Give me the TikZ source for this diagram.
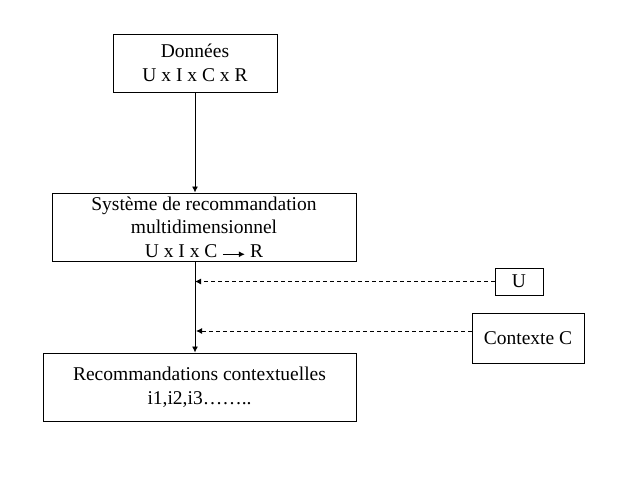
\documentclass[tikz,border=0pt]{standalone}
\usepackage{fontspec}
\setmainfont{Liberation Serif}
\usetikzlibrary{arrows.meta}
\newcommand{\inarrow}{\tikz[baseline=-0.15em]\draw[line width=0.9pt,-{Latex[length=6pt,width=6pt]}] (0,0) -- (22pt,0);}
\begin{document}
\begin{tikzpicture}[x=1pt,y=-1pt,
  box/.style={draw,line width=1pt,align=center,inner sep=0pt,font=\fontsize{19.5}{23.5}\selectfont},
  flow/.style={line width=0.9pt,-{Latex[length=6pt,width=6pt]}},
  hint/.style={flow,dash pattern=on 4pt off 3pt}]
\useasboundingbox (0,0) rectangle (628,496);

\node[box,minimum width=164,minimum height=58] (don) at (195,63) {Données\\U x I x C x R};
\node[box,minimum width=304,minimum height=68] (sys) at (204,227) {Système de recommandation\\multidimensionnel\\U x I x C \inarrow\ R};
\node[box,minimum width=313,minimum height=68] (rec) at (199.5,387) {Recommandations contextuelles\\i1,i2,i3\dots\dots..};
\node[box,minimum width=48,minimum height=27] (u) at (519,281.5) {U};
\node[box,minimum width=112,minimum height=50] (ctx) at (528,338) {Contexte C};

\coordinate (ju) at (don.south |- u.west);
\coordinate (jc) at (196,331);

\draw[flow] (don.south) -- (don.south |- sys.north);
\draw[flow] (don.south |- sys.south) -- (don.south |- rec.north);
\draw[hint] (u.west) -- (ju);
\draw[hint] (ctx.west |- jc) -- (jc);
\end{tikzpicture}
\end{document}
